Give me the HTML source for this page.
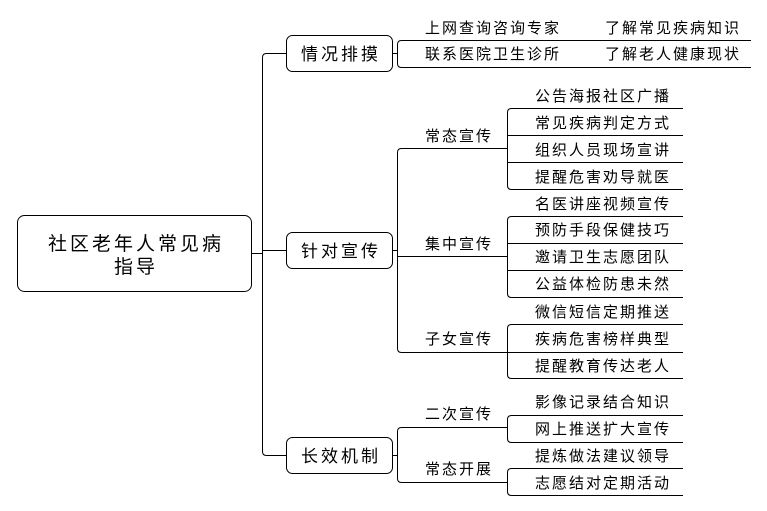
<!DOCTYPE html>
<html><head><meta charset="utf-8"><style>
html,body{margin:0;padding:0;background:#fff;}
svg{display:block;}
text{font-family:"Liberation Sans","Noto Sans CJK SC","WenQuanYi Zen Hei",sans-serif;fill:#000;}
</style></head><body>
<svg width="767" height="511" viewBox="0 0 767 511" xmlns="http://www.w3.org/2000/svg">
<g fill="none" stroke="#000" stroke-width="1">
<rect x="17.5" y="215.5" width="234" height="76" rx="7"/>
<path d="M251.5 253.5H262.5"/>
<path d="M286 53.5H266.5Q262.5 53.5 262.5 57.5V451.5Q262.5 455.5 266.5 455.5H286"/>
<path d="M262.5 250.5H286"/>
<rect x="286.5" y="35.5" width="106" height="36" rx="6"/>
<rect x="286.5" y="232.5" width="106" height="36" rx="6"/>
<rect x="286.5" y="437.5" width="106" height="36" rx="6"/>
<path d="M392.5 53.5H397.5"/>
<path d="M751 40.5H401.5Q397.5 40.5 397.5 44.5V63.5Q397.5 67.5 401.5 67.5H751"/>
<path d="M392.5 250.5H397.5"/>
<path d="M507 148.5H401.5Q397.5 148.5 397.5 152.5V348.5Q397.5 352.5 401.5 352.5H507"/>
<path d="M397.5 256.5H507"/>
<path d="M683 108.5H511.5Q507.5 108.5 507.5 112.5V185.5Q507.5 189.5 511.5 189.5H683"/>
<path d="M507.5 135.5H683M507.5 162.5H683"/>
<path d="M683 216.5H511.5Q507.5 216.5 507.5 220.5V293.5Q507.5 297.5 511.5 297.5H683"/>
<path d="M507.5 243.5H683M507.5 270.5H683"/>
<path d="M683 324.5H511.5Q507.5 324.5 507.5 328.5V374.5Q507.5 378.5 511.5 378.5H683"/>
<path d="M507.5 352.5H683"/>
<path d="M392.5 455.5H397.5"/>
<path d="M507 427.5H401.5Q397.5 427.5 397.5 431.5V478.5Q397.5 482.5 401.5 482.5H507"/>
<path d="M683 415.5H511.5Q507.5 415.5 507.5 419.5V438.5Q507.5 442.5 511.5 442.5H683"/>
<path d="M683 468.5H511.5Q507.5 468.5 507.5 472.5V491.5Q507.5 495.5 511.5 495.5H683"/>
</g>
<g font-size="19" text-anchor="middle" letter-spacing="3">
<text x="136" y="250">社区老年人常见病</text>
<text x="136" y="273">指导</text>
</g>
<g font-size="17" text-anchor="middle" letter-spacing="3">
<text x="341" y="60">情况排摸</text>
<text x="341" y="257">针对宣传</text>
<text x="341" y="462">长效机制</text>
</g>
<g font-size="15" letter-spacing="2">
<text x="425" y="33">上网查询咨询专家</text>
<text x="605" y="33">了解常见疾病知识</text>
<text x="425" y="59">联系医院卫生诊所</text>
<text x="605" y="59">了解老人健康现状</text>
<text x="425" y="141">常态宣传</text>
<text x="425" y="249">集中宣传</text>
<text x="425" y="344">子女宣传</text>
<text x="425" y="419">二次宣传</text>
<text x="425" y="474">常态开展</text>
<text x="535" y="101">公告海报社区广播</text>
<text x="535" y="128">常见疾病判定方式</text>
<text x="535" y="155">组织人员现场宣讲</text>
<text x="535" y="182">提醒危害劝导就医</text>
<text x="535" y="209">名医讲座视频宣传</text>
<text x="535" y="235">预防手段保健技巧</text>
<text x="535" y="262">邀请卫生志愿团队</text>
<text x="535" y="289">公益体检防患未然</text>
<text x="535" y="317">微信短信定期推送</text>
<text x="535" y="344">疾病危害榜样典型</text>
<text x="535" y="371">提醒教育传达老人</text>
<text x="535" y="407">影像记录结合知识</text>
<text x="535" y="434">网上推送扩大宣传</text>
<text x="535" y="461">提炼做法建议领导</text>
<text x="535" y="488">志愿结对定期活动</text>
</g>
</svg>
</body></html>
